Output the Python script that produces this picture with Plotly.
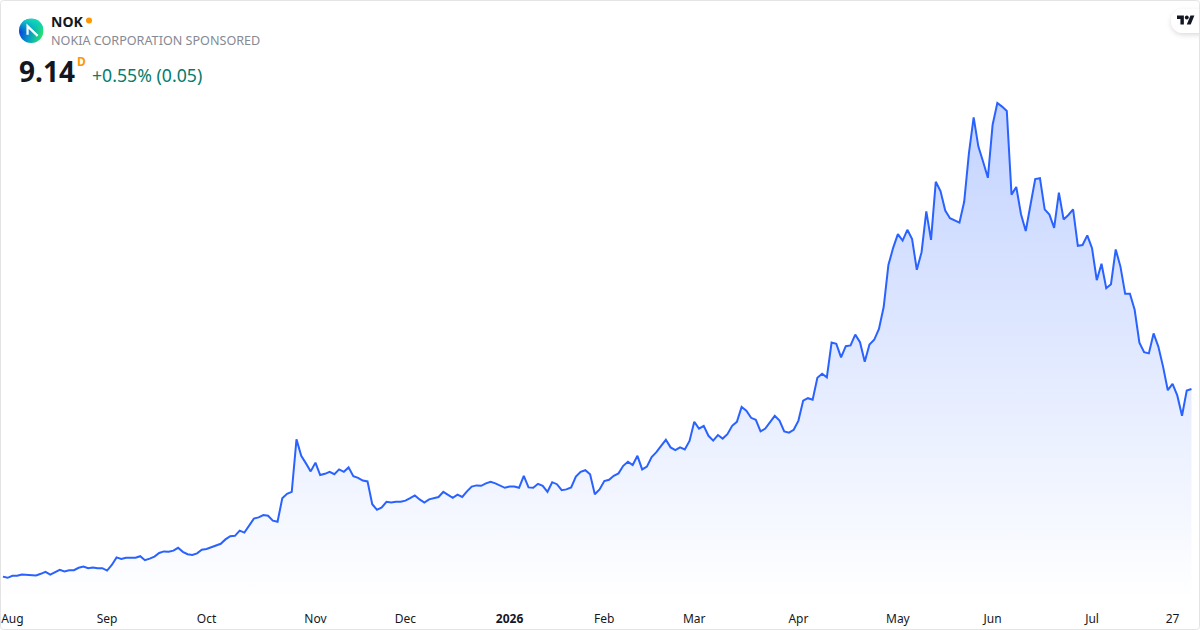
import base64

import pandas as pd
import plotly.graph_objects as go

TITLE = "NOK"
NAME = "NOKIA CORPORATION SPONSORED"
LAST_PRICE = "9.14"
CHANGE = "+0.55% (0.05)"

HOLIDAYS = ["2025-09-01", "2025-11-27", "2025-12-25", "2026-01-01", "2026-01-19",
            "2026-02-16", "2026-04-03", "2026-05-25", "2026-06-19", "2026-07-03"]
DATES = [d.strftime("%Y-%m-%d") for d in pd.bdate_range("2025-07-31", "2026-07-31")
         if d.strftime("%Y-%m-%d") not in HOLIDAYS]

# closing prices
PRICES = [
    4.45, 4.42, 4.47, 4.47, 4.50, 4.49, 4.48, 4.48, 4.52, 4.57,
    4.50, 4.57, 4.62, 4.58, 4.61, 4.61, 4.67, 4.70, 4.66, 4.68,
    4.66, 4.66, 4.60, 4.74, 4.93, 4.89, 4.92, 4.92, 4.92, 4.96,
    4.86, 4.90, 4.95, 5.04, 5.08, 5.07, 5.10, 5.17, 5.07, 5.01,
    4.99, 5.03, 5.12, 5.14, 5.19, 5.22, 5.27, 5.38, 5.46, 5.47,
    5.60, 5.55, 5.73, 5.90, 5.93, 5.99, 5.97, 5.85, 5.82, 6.41,
    6.52, 6.57, 7.88, 7.47, 7.28, 7.08, 7.30, 6.99, 7.02, 7.07,
    7.01, 7.13, 7.07, 7.18, 6.96, 6.92, 6.85, 6.83, 6.26, 6.12,
    6.18, 6.32, 6.30, 6.32, 6.32, 6.35, 6.41, 6.48, 6.38, 6.30,
    6.38, 6.41, 6.44, 6.57, 6.49, 6.42, 6.50, 6.44, 6.58, 6.70,
    6.73, 6.72, 6.78, 6.82, 6.78, 6.72, 6.67, 6.70, 6.70, 6.67,
    6.97, 6.68, 6.67, 6.77, 6.72, 6.57, 6.81, 6.76, 6.61, 6.63,
    6.68, 6.95, 7.07, 7.11, 7.01, 6.51, 6.63, 6.84, 6.87, 6.97,
    7.03, 7.22, 7.32, 7.24, 7.47, 7.13, 7.20, 7.44, 7.56, 7.72,
    7.87, 7.68, 7.61, 7.68, 7.63, 7.84, 8.32, 8.15, 8.22, 7.97,
    7.85, 7.99, 7.90, 8.01, 8.22, 8.32, 8.69, 8.60, 8.42, 8.37,
    8.08, 8.15, 8.32, 8.47, 8.35, 8.08, 8.05, 8.12, 8.35, 8.85,
    8.91, 8.87, 9.42, 9.52, 9.43, 10.30, 10.27, 9.93, 10.21, 10.23,
    10.50, 10.31, 9.82, 10.25, 10.37, 10.64, 11.19, 12.24, 12.67, 13.01,
    12.85, 13.12, 12.89, 12.12, 12.56, 13.58, 12.87, 14.32, 14.09, 13.60,
    13.41, 13.35, 13.30, 13.82, 15.03, 15.93, 15.20, 14.82, 14.42, 15.74,
    16.29, 16.20, 16.09, 14.00, 14.19, 13.51, 13.09, 13.74, 14.39, 14.41,
    13.63, 13.50, 13.17, 14.05, 13.38, 13.49, 13.63, 12.72, 12.74, 12.98,
    12.66, 11.86, 12.27, 11.66, 11.76, 12.63, 12.20, 11.52, 11.52, 11.12,
    10.30, 10.06, 10.03, 10.53, 10.20, 9.70, 9.11, 9.27, 8.98, 8.47,
    9.10, 9.14,
]

TICK_INDEX = [2, 22, 43, 66, 85, 107, 127, 146, 168, 189, 209, 230, 247]
TICK_TEXT = ["Aug", "Sep", "Oct", "Nov", "Dec", "<b>2026</b>", "Feb", "Mar", "Apr", "May", "Jun", "Jul", "27"]

W, H, PLOT_H = 1200, 630, 600


def px(x):
    return x / W


def py(y):
    # paper y from a pixel row, the plot area only covers the top 600 rows
    return 1 - y / PLOT_H


def svg_uri(svg):
    return "data:image/svg+xml;base64," + base64.b64encode(svg.encode()).decode()


def frame_path(r=3):
    # rounded outline of the widget
    x0, x1, y0, y1 = 0.5, W - 0.5, 0.5, H - 0.5
    return (
        f"M{px(x0 + r)},{py(y0)} L{px(x1 - r)},{py(y0)} Q{px(x1)},{py(y0)} {px(x1)},{py(y0 + r)} "
        f"L{px(x1)},{py(y1 - r)} Q{px(x1)},{py(y1)} {px(x1 - r)},{py(y1)} "
        f"L{px(x0 + r)},{py(y1)} Q{px(x0)},{py(y1)} {px(x0)},{py(y1 - r)} "
        f"L{px(x0)},{py(y0 + r)} Q{px(x0)},{py(y0)} {px(x0 + r)},{py(y0)} Z"
    )


NOK_LOGO = """<svg xmlns="http://www.w3.org/2000/svg" viewBox="0 0 100 100">
<defs><linearGradient id="h" x1="0" y1="0.55" x2="1" y2="0.85">
<stop offset="0" stop-color="#0640e0"/><stop offset="0.45" stop-color="#08a0c4"/><stop offset="1" stop-color="#2cf060"/>
</linearGradient><linearGradient id="t" x1="0" y1="0" x2="0" y2="1">
<stop offset="0" stop-color="#10e0b8"/><stop offset="0.55" stop-color="#10e0b8" stop-opacity="0"/>
</linearGradient></defs>
<circle cx="50" cy="50" r="50" fill="url(#h)"/>
<circle cx="50" cy="50" r="50" fill="url(#t)"/>
<path d="M35 66V31L76 71" fill="none" stroke="#fff" stroke-width="9"/>
</svg>"""

TV_BADGE = """<svg xmlns="http://www.w3.org/2000/svg" viewBox="0 0 35 35">
<defs><filter id="s" x="-30%" y="-40%" width="160%" height="180%">
<feDropShadow dx="0" dy="2" stdDeviation="2.5" flood-color="#000" flood-opacity="0.14"/></filter></defs>
<rect x="6" y="4" width="60" height="24" rx="12" fill="#fff" filter="url(#s)"/>
<g transform="translate(12,8.6) scale(0.49)" fill="#131722">
<path d="M14 22H7V11H0V4h14v18zM28 22h-8l7.5-18h8L28 22z"/><circle cx="20" cy="8" r="4"/>
</g>
</svg>"""

fig = go.Figure(
    go.Scatter(
        x=DATES,
        y=PRICES,
        mode="lines",
        line=dict(color="#2962ff", width=2),
        fill="tozeroy",
        fillgradient=dict(
            type="vertical",
            colorscale=[[0, "rgba(41,98,255,0)"], [1, "rgba(41,98,255,0.28)"]],
            start=3.85,
            stop=16.3,
        ),
        hoverinfo="skip",
    )
)

fig.update_layout(
    width=W,
    height=H,
    autosize=False,
    margin=dict(l=0, r=0, t=0, b=H - PLOT_H, pad=0),
    paper_bgcolor="white",
    plot_bgcolor="white",
    showlegend=False,
    font=dict(family="Noto Sans", color="#131722"),
    xaxis=dict(
        type="category",
        range=[-0.612, 252.8],
        tickmode="array",
        tickvals=[DATES[i] for i in TICK_INDEX],
        ticktext=TICK_TEXT,
        showgrid=False,
        zeroline=False,
        showline=False,
        ticks="outside",
        ticklen=8,
        tickcolor="rgba(0,0,0,0)",
        tickangle=0,
        tickfont=dict(size=12, color="#131722", family="Noto Sans"),
    ),
    yaxis=dict(range=[3.865, 18.865], visible=False, fixedrange=True),
    shapes=[
        dict(type="path", xref="paper", yref="paper", path=frame_path(),
             line=dict(color="#e4e4e4", width=1), fillcolor="rgba(0,0,0,0)", layer="above"),
        dict(type="circle", xref="paper", yref="paper", x0=px(86), x1=px(92), y0=py(17.5), y1=py(23.5),
             line=dict(width=0), fillcolor="#ff9800", layer="above"),
    ],
    images=[
        dict(source=svg_uri(NOK_LOGO), xref="paper", yref="paper", x=px(19), y=py(18.5), sizex=px(24.5), sizey=24.5 / PLOT_H,
             xanchor="left", yanchor="top", sizing="stretch", layer="above"),
        dict(source=svg_uri(TV_BADGE), xref="paper", yref="paper", x=px(1165), y=py(5), sizex=px(35), sizey=35 / PLOT_H,
             xanchor="left", yanchor="top", sizing="stretch", layer="above"),
    ],
    annotations=[
        dict(text=f"<b>{TITLE}</b>", x=px(49), y=py(21), font=dict(size=14, color="#131722")),
        dict(text=NAME, x=px(49), y=py(40.5), font=dict(size=12.6, color="#868993")),
        dict(text=f"<b>{LAST_PRICE}</b>", x=px(17), y=py(71), font=dict(size=28, color="#131722")),
        dict(text="<b>D</b>", x=px(75), y=py(61), font=dict(size=12, color="#ff9800")),
        dict(text=CHANGE, x=px(90), y=py(75), font=dict(size=17.7, color="#057c6c")),
    ],
)
for ann in fig.layout.annotations:
    ann.update(xref="paper", yref="paper", xanchor="left", yanchor="middle", showarrow=False)

fig.write_html(
    "out.html",
    config=dict(displayModeBar=False),
    post_script="document.body.style.margin='0';document.body.style.overflow='hidden';",
)
